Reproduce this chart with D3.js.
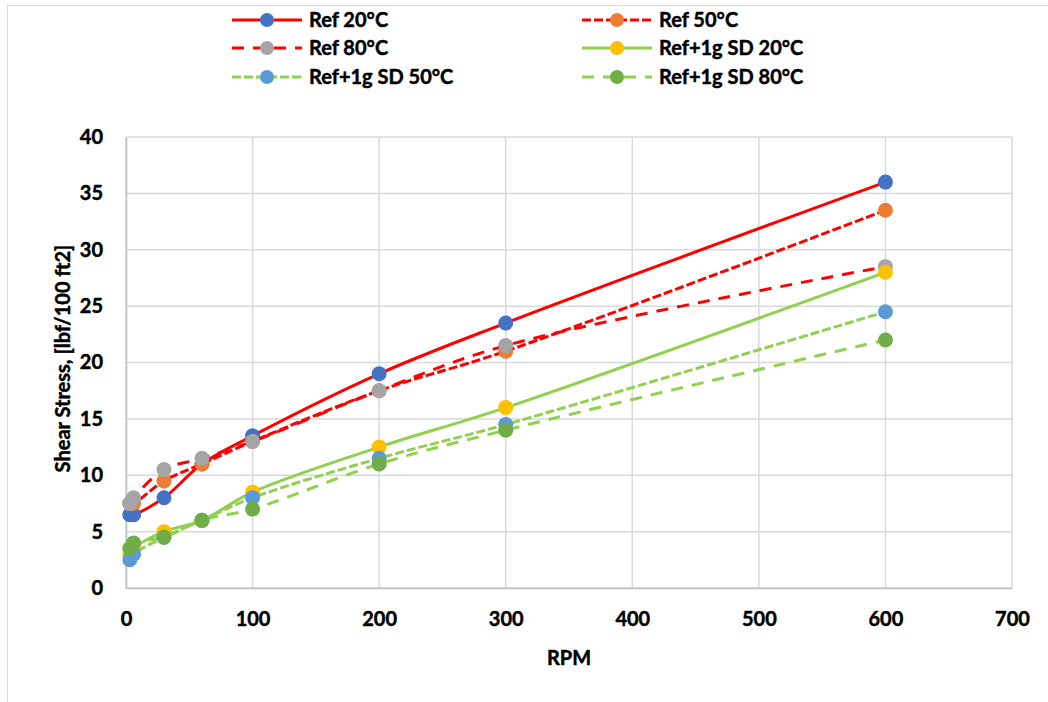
<!DOCTYPE html>
<html>
<head>
<meta charset="utf-8">
<script src="https://cdn.jsdelivr.net/npm/d3@7"></script>
<style>
  html, body { margin: 0; padding: 0; background: #fff; }
  svg { display: block; }
  text { font-family: Lato, "Open Sans", "Liberation Sans", sans-serif; font-weight: bold; fill: #000; stroke: #000; stroke-width: 0.45px; }
</style>
</head>
<body>
<svg id="chart" width="1048" height="702"></svg>
<script>
// Fann viscometer speeds (RPM)
const rpm = [3, 6, 30, 60, 100, 200, 300, 600];

// Shear stress readings, lbf/100 ft2
const ref20 = [6.5, 6.5, 8, 11, 13.5, 19, 23.5, 36];
const ref50 = [7.5, 7.5, 9.5, 11, 13, 17.5, 21, 33.5];
const ref80 = [7.5, 8, 10.5, 11.5, 13, 17.5, 21.5, 28.5];
const sd20 = [3, 3.5, 5, 6, 8.5, 12.5, 16, 28];
const sd50 = [2.5, 3, 4.5, 6, 8, 11.5, 14.5, 24.5];
const sd80 = [3.5, 4, 4.5, 6, 7, 11, 14, 22];

const seriesNames = ["Ref 20°C", "Ref 50°C", "Ref 80°C", "Ref+1g SD 20°C", "Ref+1g SD 50°C", "Ref+1g SD 80°C"];
const seriesValues = [ref20, ref50, ref80, sd20, sd50, sd80];
const lineColors = ["#ff0000", "#ff0000", "#ff0000", "#92d050", "#92d050", "#92d050"];
const markerColors = ["#4472c4", "#ed7d31", "#a5a5a5", "#ffc000", "#5b9bd5", "#70ad47"];
const dashes = [null, "9,3", "12,9", null, "9,3", "12,9"];

const xTicks = [0, 100, 200, 300, 400, 500, 600, 700];
const yTicks = [0, 5, 10, 15, 20, 25, 30, 35, 40];

const svg = d3.select("#chart");

// outer chart frame
svg.append("rect")
  .attr("x", 7.5).attr("y", 5.5)
  .attr("width", 1100).attr("height", 800)
  .attr("fill", "none").attr("stroke", "#d9d9d9").attr("stroke-width", 1);

const plot = { left: 126, right: 1012, top: 137, bottom: 588 };
const x = d3.scaleLinear().domain([0, 700]).range([plot.left, plot.right]);
const y = d3.scaleLinear().domain([0, 40]).range([plot.bottom, plot.top]);

// gridlines
const grid = svg.append("g");
grid.selectAll("line.h").data(yTicks).join("line")
  .attr("x1", plot.left).attr("x2", plot.right)
  .attr("y1", d => y(d)).attr("y2", d => y(d))
  .attr("stroke", "#d9d9d9").attr("stroke-width", 1.5);
grid.selectAll("line.v").data(xTicks).join("line")
  .attr("y1", plot.top).attr("y2", plot.bottom)
  .attr("x1", d => x(d)).attr("x2", d => x(d))
  .attr("stroke", "#d9d9d9").attr("stroke-width", 1.5);

// axes
const yAxis = svg.append("g")
  .attr("transform", `translate(${plot.left},0)`)
  .call(d3.axisLeft(y).tickValues(yTicks).tickSize(0).tickPadding(23));
yAxis.select(".domain").attr("stroke", "#bfbfbf").attr("stroke-width", 1.5);
yAxis.selectAll("text").attr("font-size", 20).attr("font-family", null);

const xAxis = svg.append("g")
  .attr("transform", `translate(0,${plot.bottom})`)
  .call(d3.axisBottom(x).tickValues(xTicks).tickSize(0).tickPadding(24));
xAxis.select(".domain").attr("stroke", "#bfbfbf").attr("stroke-width", 1.5);
xAxis.selectAll("text").attr("font-size", 20).attr("font-family", null);

// axis titles
svg.append("text")
  .attr("transform", `translate(70,${(plot.top + plot.bottom) / 2 - 4}) rotate(-90)`)
  .attr("text-anchor", "middle").attr("font-size", 20)
  .text("Shear Stress, [lbf/100 ft2]");
svg.append("text")
  .attr("x", (plot.left + plot.right) / 2).attr("y", 665)
  .attr("text-anchor", "middle").attr("font-size", 20)
  .text("RPM");

// series: smoothed line then markers, drawn in order
const line = d3.line()
  .x((d, i) => x(rpm[i]))
  .y(d => y(d))
  .curve(d3.curveCatmullRom.alpha(0.5));

seriesValues.forEach((vals, s) => {
  const g = svg.append("g");
  g.append("path")
    .attr("d", line(vals))
    .attr("fill", "none")
    .attr("stroke", lineColors[s])
    .attr("stroke-width", 3)
    .attr("stroke-dasharray", dashes[s]);
  g.selectAll("circle").data(vals).join("circle")
    .attr("cx", (d, i) => x(rpm[i]))
    .attr("cy", d => y(d))
    .attr("r", 7.5)
    .attr("fill", markerColors[s]);
});

// legend: two columns, three rows
const legend = svg.append("g");
const colX = [232, 582];
const rowY = [20, 48, 77];
seriesNames.forEach((name, s) => {
  const lx = colX[s % 2];
  const ly = rowY[Math.floor(s / 2)];
  const item = legend.append("g");
  item.append("line")
    .attr("x1", lx).attr("x2", lx + 70)
    .attr("y1", ly).attr("y2", ly)
    .attr("stroke", lineColors[s]).attr("stroke-width", 3)
    .attr("stroke-dasharray", dashes[s]);
  item.append("circle")
    .attr("cx", lx + 35).attr("cy", ly).attr("r", 7)
    .attr("fill", markerColors[s]);
  item.append("text")
    .attr("x", lx + 77).attr("y", ly)
    .attr("dy", "0.35em")
    .attr("font-size", 20)
    .text(name);
});
</script>
</body>
</html>
